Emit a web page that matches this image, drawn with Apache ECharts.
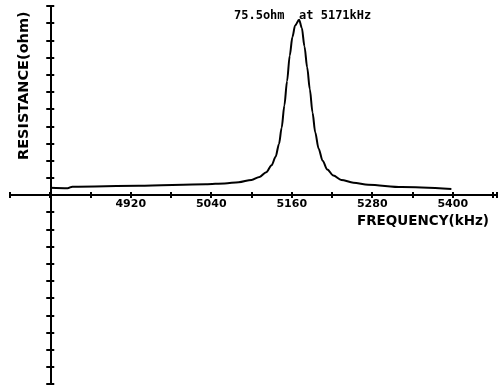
<!DOCTYPE html>
<html>
<head>
<meta charset="utf-8">
<script src="https://cdn.jsdelivr.net/npm/echarts@6/dist/echarts.min.js"></script>
<style>
  html, body { margin: 0; padding: 0; background: #fff; }
  #chart { width: 499px; height: 389px; }
</style>
</head>
<body>
<div id="chart"></div>
<script>
// frequency (kHz) and resistance (ohm)
var freqs = [4800, 4826, 4833, 4932, 5032, 5060, 5081, 5100, 5112, 5122, 5130, 5136, 5141, 5145, 5149, 5153,
             5157, 5161, 5165, 5171, 5175, 5179, 5183, 5187, 5191, 5195, 5200, 5206, 5213, 5222, 5234,
             5252, 5274, 5324, 5398];
var resist = [3.1, 2.9, 3.6, 4.0, 4.6, 5.0, 5.5, 6.5, 7.8, 9.8, 12.8, 16.5, 22, 29, 38.5, 49,
              60, 68, 73, 75.5, 72, 64, 55, 45.5, 35.5, 27, 20, 14.8, 11, 8.4, 6.5,
              5.3, 4.4, 3.4, 2.6];
var xLabels = [4920, 5040, 5160, 5280, 5400];
var peakText = '75.5ohm  at 5171kHz';

var chart = echarts.init(document.getElementById('chart'));

var pts = freqs.map(function (f, i) { return [f, resist[i]]; });
var ink = '#000';
var font = 'DejaVu Sans';

// two overlapping copies of each axis so the ticks cross the line
var yBase = {
    type: 'value', position: 'left', min: -81.4, max: 81.4, interval: 7.4,
    offset: -40.25,
    axisLine: { show: true, onZero: false, lineStyle: { color: ink, width: 2 } },
    axisLabel: { show: false },
    splitLine: { show: false }
};
// x axis drawn through y = 0 (middle of the grid)
var xBase = {
    type: 'value', position: 'bottom', min: 4740, max: 5466, interval: 60,
    offset: -189,
    axisLine: { show: true, onZero: false, lineStyle: { color: ink, width: 2 } },
    splitLine: { show: false }
};

chart.setOption({
    animation: false,
    backgroundColor: '#fff',
    grid: { left: 10, right: 2, top: 6, bottom: 5, outerBoundsMode: 'none', containLabel: false },
    title: {
        text: peakText, left: 229, top: 5,
        textStyle: { fontFamily: 'DejaVu Sans Mono', fontSize: 12, fontWeight: 'bold', color: ink }
    },
    xAxis: [
        Object.assign({}, xBase, {
            axisTick: { show: true, inside: false, length: 3, lineStyle: { color: ink, width: 2 } },
            axisLabel: {
                show: true, margin: 4, color: ink, fontFamily: font, fontSize: 11, fontWeight: 'bold',
                formatter: function (v) { return xLabels.indexOf(Math.round(v)) >= 0 ? String(Math.round(v)) : ''; }
            }
        }),
        Object.assign({}, xBase, {
            axisTick: { show: true, inside: true, length: 3, lineStyle: { color: ink, width: 2 } },
            axisLabel: { show: false }
        })
    ],
    yAxis: [
        Object.assign({}, yBase, {
            axisTick: { show: true, inside: false, length: 4, lineStyle: { color: ink, width: 2 } }
        }),
        Object.assign({}, yBase, {
            axisTick: { show: true, inside: true, length: 4, lineStyle: { color: ink, width: 2 } }
        })
    ],
    graphic: [
        {
            type: 'text', x: 17, y: 160, rotation: Math.PI / 2,
            style: { text: 'RESISTANCE(ohm)', fill: ink, font: 'bold 14.5px ' + font }
        },
        {
            type: 'text', x: 357, y: 214,
            style: { text: 'FREQUENCY(kHz)', fill: ink, font: 'bold 13.5px ' + font }
        }
    ],
    series: [{
        type: 'line',
        data: pts,
        smooth: 0.3,
        smoothMonotone: 'x',
        showSymbol: false,
        lineStyle: { color: ink, width: 2 }
    }]
});
</script>
</body>
</html>
